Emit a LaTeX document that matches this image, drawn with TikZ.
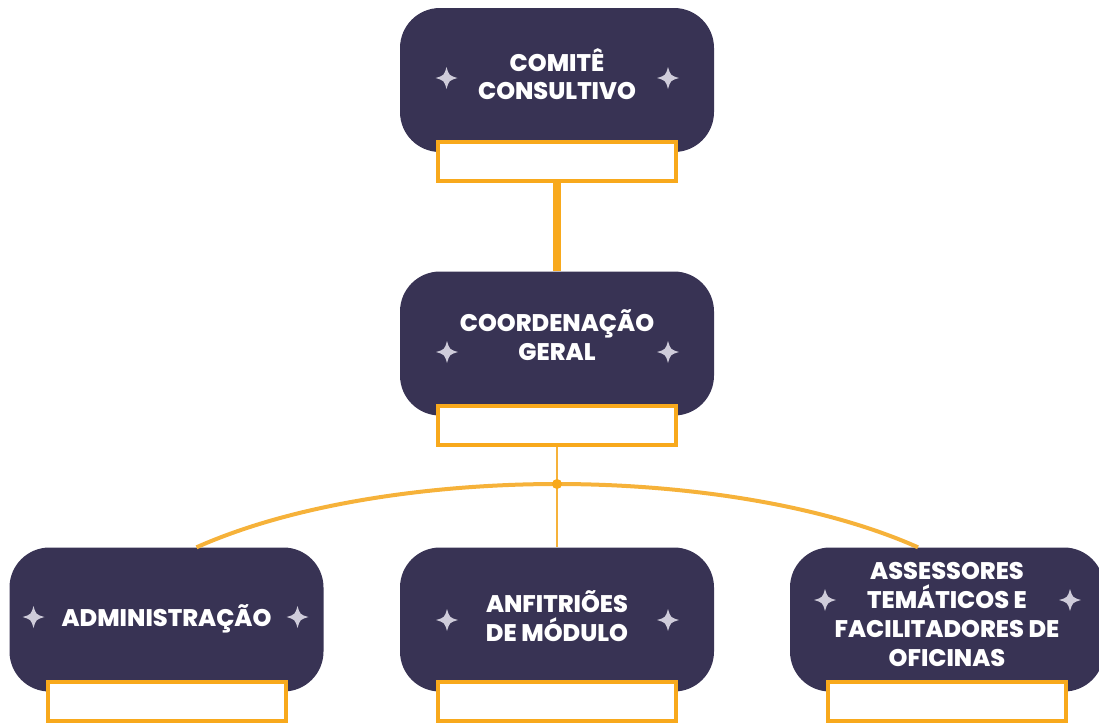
\documentclass[tikz,border=0pt]{standalone}
\usepackage{fontspec}
\setmainfont{Poppins}[BoldFont={Poppins ExtraBold}]
\usetikzlibrary{positioning}

\definecolor{boxcol}{HTML}{383354}
\definecolor{tagcol}{HTML}{F8A91C}
\definecolor{arccol}{HTML}{F6B23A}
\definecolor{starcol}{HTML}{CFCCDA}

\tikzset{
  orgbox/.style={fill=boxcol, rounded corners=40pt, minimum width=314pt,
    minimum height=144pt, inner sep=0pt},
  orgtext/.style={text=white, font=\bfseries\fontsize{24}{28.7}\selectfont,
    align=center, inner sep=0pt},
  tagbox/.style={draw=tagcol, line width=4pt, fill=white, minimum width=238pt,
    minimum height=39pt, inner sep=0pt},
  sparkle/.pic={
    \fill[starcol] (0,-11) .. controls (2.5,-2.5) .. (11,0)
      .. controls (2.5,2.5) .. (0,11) .. controls (-2.5,2.5) .. (-11,0)
      .. controls (-2.5,-2.5) .. cycle;
  }
}

\begin{document}
\begin{tikzpicture}[x=1pt, y=-1pt]
\useasboundingbox (0,0) rectangle (1099,723);

% boxes
\node[orgbox] (comite) at (557,80) {};
\node[orgbox] (coord) at (557,343.5) {};
\node[orgbox] (admin) at (166.5,619.5) {};
\node[orgbox] (anfit) at (557,619.5) {};
\node[orgbox] (assess) at (947,619.5) {};

% labels
\node[orgtext] (comitelbl) at ([yshift=6pt]comite.center) {COMITÊ\\CONSULTIVO};
\node[orgtext] (coordlbl) at ([yshift=8.5pt]coord.center) {COORDENAÇÃO\\GERAL};
\node[orgtext] (adminlbl) at ([yshift=0.5pt]admin.center) {ADMINISTRAÇÃO};
\node[orgtext] (anfitlbl) at ([yshift=3.5pt]anfit.center) {ANFITRIÕES\\DE MÓDULO};
\node[orgtext] (assesslbl) at ([yshift=5pt]assess.center)
  {ASSESSORES\\TEMÁTICOS E\\FACILITADORES DE\\OFICINAS};

\foreach \p in {(446.5,78),(668,78),(447,352),(668,352),(33.5,617),(297.5,617),
    (447,620),(668,620),(825,600),(1070,600)}
  \pic at \p {sparkle};

% tags
\node[tagbox, below=-12pt of comite] (comitetag) {};
\node[tagbox, below=-12pt of coord] (coordtag) {};
\node[tagbox, below=-12pt of admin] (admintag) {};
\node[tagbox, below=-12pt of anfit] (anfittag) {};
\node[tagbox, below=-12pt of assess] (assesstag) {};

% connectors
\coordinate (junc) at (557,484);
\draw[tagcol, line width=8pt] (comitetag.south) -- (coord.north);
\draw[arccol, line width=2pt] (coordtag.south) -- (anfit.north);
\draw[arccol, line width=4pt] ([xshift=30pt]admin.north)
  to[out=24, in=180, looseness=0.8] (junc)
  to[out=0, in=156, looseness=0.8] ([xshift=-29pt]assess.north);
\fill[tagcol] (junc) circle (5pt);
\end{tikzpicture}
\end{document}
